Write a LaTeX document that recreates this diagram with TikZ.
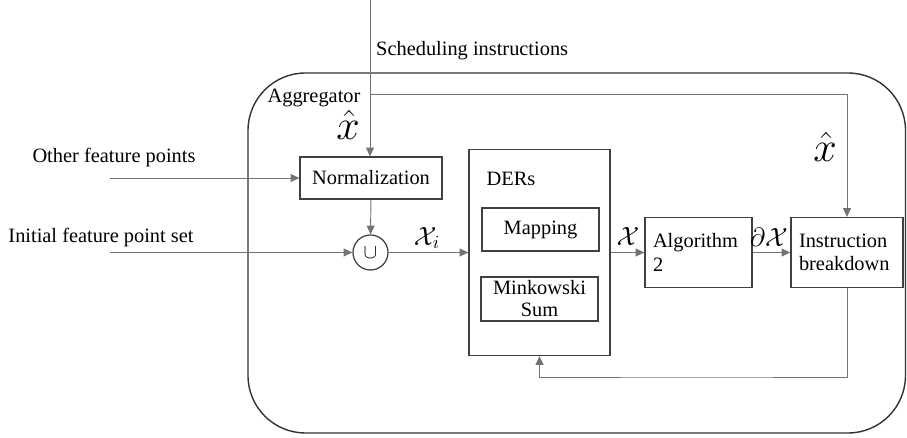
\documentclass[tikz,border=0pt]{standalone}
\usepackage{fix-cm}
\usepackage{amsmath, amssymb, fontspec}
\setmainfont{Liberation Serif}
\usetikzlibrary{arrows.meta, calc}
\tikzset{
    blk/.style={draw=black!75, line width=.7pt, rectangle, inner sep=0pt},
    conn/.style={draw=black!55, line width=.55pt},
    arr/.style={conn, -{Triangle[length=5pt, width=4.5pt]}},
    hatlbl/.style={font=\fontsize{24}{26}\selectfont, inner sep=0pt},
    setlbl/.style={font=\fontsize{15}{17}\selectfont, inner sep=0pt},
}

\begin{document}
\begin{tikzpicture}[x=.02cm, y=-.02cm, font=\fontsize{11.6}{13.2}\selectfont]
    \useasboundingbox (0, 0) rectangle (907, 438);
    \draw[black!80, line width=.8pt, rounded corners=1.15cm] (248, 73)
        rectangle (905.5, 433);
    % blocks
    \node[blk, minimum width=2.84cm, minimum height=.84cm] (norm) at (371, 178)
        {Normalization};
    \node[blk, circle, minimum size=.7cm] (uni) at (370.5, 252.5) {$\cup$};
    \node[blk, minimum width=2.82cm, minimum height=4.12cm] (ders)
        at (539.5, 252.5) {};
    \node[blk, minimum width=2.34cm, minimum height=.86cm] (map)
        at (540.5, 229.5) {Mapping};
    \node[blk, minimum width=2.34cm, minimum height=.88cm, align=center,
        font=\fontsize{11.6}{12.5}\selectfont] (mink) at (539.5, 299)
        {Minkowski\\Sum};
    \node[blk, minimum width=2.14cm, minimum height=1.4cm, text width=1.82cm,
        align=left] (alg) at (698.5, 252.5) {Algorithm\\2};
    \node[blk, minimum width=2.24cm, minimum height=1.4cm, text width=1.92cm,
        align=left] (instr) at (847, 252.5) {Instruction\\breakdown};
    % texts
    \node[anchor=west] (sched) at (370, 51) {Scheduling instructions};
    \node (aggr) at (314, 98) {Aggregator};
    \node (ofptxt) at (114, 158) {Other feature points};
    \node (ifptxt) at (101, 237) {Initial feature point set};
    \node (derslbl) at (511, 179) {DERs};
    \node[hatlbl] (xhatA) at (348, 125) {$\hat{x}$};
    \node[hatlbl] (xhatB) at (825, 147) {$\hat{x}$};
    \node[setlbl] (xilbl) at (427, 238) {$\mathcal{X}_i$};
    \node[setlbl] (xlbl) at (628, 237) {$\mathcal{X}$};
    \node[setlbl] (dxlbl) at (769, 237) {$\partial\mathcal{X}$};
    % connectors
    \coordinate (top) at (370, 0);
    \coordinate (split) at (370, 94);
    \coordinate (ofp) at (110, 178);
    \coordinate (ifp) at (110, 252.5);
    \coordinate (fb) at (700, 377);
    \draw[arr] (top) -- (top |- norm.north);
    \draw[arr] (split) -| (instr.north);
    \draw[arr] (ofp) -- (norm.west);
    \draw[arr] (ifp) -- (uni.west);
    \draw[arr] (norm) -- (uni);
    \draw[arr] (uni) -- (ders);
    \draw[arr] (ders) -- (alg);
    \draw[arr] (alg) -- (instr);
    \draw[arr] (instr.south) |- (fb) -| (ders.south);
\end{tikzpicture}
\end{document}
